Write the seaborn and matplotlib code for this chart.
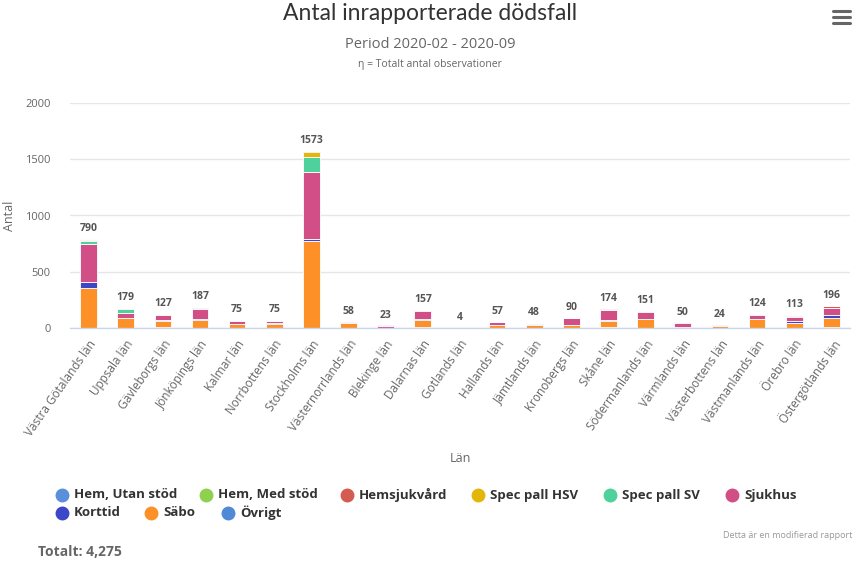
import numpy as np
import pandas as pd
import matplotlib
matplotlib.use("Agg")
import matplotlib.pyplot as plt
from matplotlib.lines import Line2D
import seaborn as sns

regions = ["Västra Götalands län", "Uppsala län", "Gävleborgs län", "Jönköpings län",
           "Kalmar län", "Norrbottens län", "Stockholms län", "Västernorrlands län",
           "Blekinge län", "Dalarnas län", "Gotlands län", "Hallands län",
           "Jämtlands län", "Kronobergs län", "Skåne län", "Södermanlands län",
           "Värmlands län", "Västerbottens län", "Västmanlands län", "Örebro län",
           "Östergötlands län"]

series = ["Hem, Utan stöd", "Hem, Med stöd", "Hemsjukvård", "Spec pall HSV",
          "Spec pall SV", "Sjukhus", "Korttid", "Säbo", "Övrigt"]

colors = ["#5a8fdb", "#8fd14f", "#d45b52", "#e2b60a", "#4fd19b",
          "#d14f86", "#3c46c8", "#fd9027", "#5089d6"]

hem_utan = [3, 0, 0, 0, 0, 0, 0, 0, 2, 0, 0, 0, 0, 0, 0, 0, 0, 2, 0, 0, 2]
hem_med = [8, 4, 0, 3, 0, 2, 0, 0, 0, 0, 0, 0, 3, 0, 0, 0, 0, 0, 0, 6, 0]
hemsjukvard = [10, 3, 6, 4, 6, 3, 10, 5, 2, 4, 0, 5, 2, 5, 8, 5, 5, 5, 10, 5, 12]
spec_hsv = [0, 0, 5, 0, 0, 0, 40, 0, 0, 5, 0, 0, 0, 0, 6, 0, 0, 0, 0, 0, 0]
spec_sv = [20, 40, 4, 12, 3, 8, 135, 0, 0, 0, 0, 3, 10, 0, 4, 0, 0, 0, 0, 0, 0]
sjukhus = [340, 45, 38, 85, 27, 20, 600, 8, 16, 68, 2, 22, 8, 55, 85, 70, 35, 2, 30, 40, 70]
korttid = [50, 2, 9, 12, 7, 2, 13, 0, 0, 8, 0, 4, 0, 0, 10, 0, 0, 0, 0, 15, 22]
sabo = [355, 85, 60, 71, 32, 40, 775, 45, 3, 67, 2, 23, 25, 30, 52, 76, 10, 15, 84, 45, 85]
ovrigt = [4, 0, 5, 0, 0, 0, 0, 0, 0, 5, 0, 0, 0, 0, 9, 0, 0, 0, 0, 2, 5]

values = [hem_utan, hem_med, hemsjukvard, spec_hsv, spec_sv, sjukhus, korttid, sabo, ovrigt]

rows = []
for s, vals in zip(series, values):
    for r, v in zip(regions, vals):
        rows.append({"Län": r, "Kategori": s, "Antal": v})
df = pd.DataFrame(rows)
df["Län"] = pd.Categorical(df["Län"], categories=regions, ordered=True)
df["pos"] = df["Län"].cat.codes

totals = df.groupby("pos")["Antal"].sum()
grand_total = int(df["Antal"].sum())

sns.set_style("white")
plt.rcParams["font.family"] = ["Open Sans", "DejaVu Sans"]

fig = plt.figure(figsize=(8.6, 5.68), dpi=100)
ax = fig.add_axes([70 / 860, 1 - 328 / 568, 780 / 860, 225 / 568])

sns.histplot(data=df, x="pos", hue="Kategori", weights="Antal", multiple="stack",
             discrete=True, shrink=0.45, hue_order=series, palette=colors,
             ax=ax, legend=False, alpha=1, edgecolor="white", linewidth=0.6)

ax.set_xlim(-0.5, len(regions) - 0.5)
ax.set_ylim(0, 2000)
ax.set_yticks([0, 500, 1000, 1500, 2000])
ax.yaxis.grid(True, color="#e6e6e6", linewidth=1)
ax.set_axisbelow(True)
for sp in ["top", "right", "left"]:
    ax.spines[sp].set_visible(False)
ax.spines["bottom"].set_color("#ccd6eb")
ax.spines["bottom"].set_linewidth(1)

ax.set_xticks(range(len(regions)))
ax.set_xticklabels(regions, rotation=55, ha="right", va="top", rotation_mode="anchor",
                   fontsize=8.5, color="#666666")
ax.set_xticks(np.arange(-0.5, len(regions) + 0.5, 1), minor=True)
ax.tick_params(axis="x", which="major", length=0, pad=7)
ax.tick_params(axis="x", which="minor", length=5, color="#ccd6eb", width=1)
ax.tick_params(axis="y", length=0, pad=14, labelsize=8, labelcolor="#666666")

ax.set_xlabel("Län", fontsize=9, color="#666666")
ax.set_ylabel("Antal", fontsize=9, color="#666666")
ax.xaxis.set_label_coords(0.5, -124 / 225)
ax.yaxis.set_label_coords(-54 / 780, 0.5)

for pos, tot in totals.items():
    ax.annotate(f"{tot}", xy=(pos, tot), xytext=(0, 3.5), textcoords="offset points",
                ha="center", va="bottom", fontsize=7.5, fontweight="bold", color="#555555")

fig.text(0.5, 1 - 13 / 568, "Antal inrapporterade dödsfall", ha="center", va="center",
         fontsize=16.5, color="#333333", family=["Lato", "DejaVu Sans"])
fig.text(0.5, 1 - 44 / 568, "Period 2020-02 - 2020-09", ha="center", va="center",
         fontsize=10.5, color="#666666")
fig.text(0.5, 1 - 65 / 568, "η = Totalt antal observationer", ha="center", va="center",
         fontsize=7.5, color="#666666")

# hamburger menu
for yy in [11, 17, 23]:
    fig.add_artist(Line2D([833 / 860, 850 / 860], [1 - yy / 568, 1 - yy / 568],
                          color="#666666", linewidth=2.2, transform=fig.transFigure))

# legend
legend_pos = [(62, 495), (206, 495), (347, 495), (478, 495), (610, 495), (732, 495),
              (62, 513), (151, 513), (228, 513)]
legend_order = ["Hem, Utan stöd", "Hem, Med stöd", "Hemsjukvård", "Spec pall HSV",
                "Spec pall SV", "Sjukhus", "Korttid", "Säbo", "Övrigt"]
for name, (px, py) in zip(legend_order, legend_pos):
    c = colors[series.index(name)]
    fig.add_artist(Line2D([px / 860], [1 - py / 568], marker="o", markersize=9,
                          color=c, linestyle="none", transform=fig.transFigure))
    fig.text((px + 12) / 860, 1 - py / 568, name, ha="left", va="center",
             fontsize=9.5, fontweight="bold", color="#333333")

fig.text(852 / 860, 1 - 535 / 568, "Detta är en modifierad rapport", ha="right",
         va="center", fontsize=6.5, color="#999999")
fig.text(38 / 860, 1 - 552 / 568, f"Totalt: {grand_total:,}", ha="left", va="center",
         fontsize=10, fontweight="bold", color="#666666")

fig.savefig("out.png", dpi=100, facecolor="white")
